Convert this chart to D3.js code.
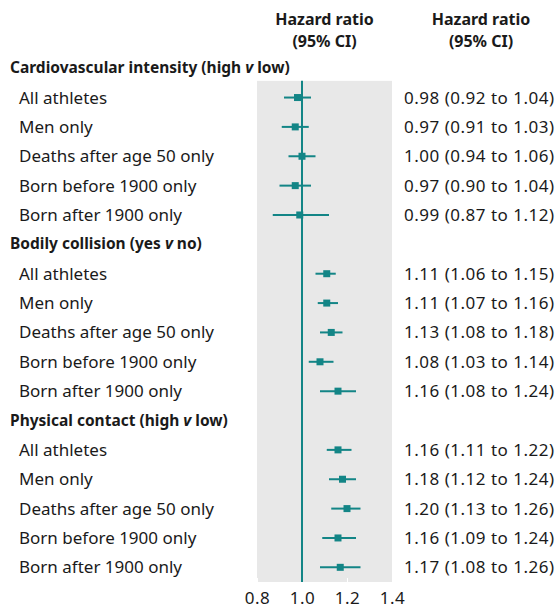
<!DOCTYPE html>
<html>
<head>
<meta charset="utf-8">
<script src="https://cdn.jsdelivr.net/npm/d3@7"></script>
<style>
  body { margin: 0; background: #fff; }
  svg { font-family: "Noto Sans", sans-serif; }
  .label { font-size: 17px; fill: #1a1a1a; }
  .value { font-size: 17px; fill: #1a1a1a; letter-spacing: 0.5px; }
  .head { font-size: 15.5px; font-weight: bold; fill: #1a1a1a; }
  .colhead { font-size: 16px; font-weight: bold; fill: #1a1a1a; }
</style>
</head>
<body>
<svg width="559" height="610"></svg>
<script>
// Groups and subgroup labels
const groups = ["Cardiovascular intensity (high ", "Bodily collision (yes ", "Physical contact (high "];
const groupTails = [" low)", " no)", " low)"];
const subgroups = ["All athletes", "Men only", "Deaths after age 50 only", "Born before 1900 only", "Born after 1900 only"];

// Hazard ratios with 95% CI, one array per group
const hr = [
  [0.98, 0.97, 1.00, 0.97, 0.99],
  [1.11, 1.11, 1.13, 1.08, 1.16],
  [1.16, 1.18, 1.20, 1.16, 1.17]
];
const lower = [
  [0.92, 0.91, 0.94, 0.90, 0.87],
  [1.06, 1.07, 1.08, 1.03, 1.08],
  [1.11, 1.12, 1.13, 1.09, 1.08]
];
const upper = [
  [1.04, 1.03, 1.06, 1.04, 1.12],
  [1.15, 1.16, 1.18, 1.14, 1.24],
  [1.22, 1.24, 1.26, 1.24, 1.26]
];
const xTicks = [0.8, 1.0, 1.2, 1.4];

const teal = "#138586";
const svg = d3.select("svg");

// flatten rows: group header rows then subgroup rows
const rows = [];
groups.forEach((g, gi) => {
  rows.push({ type: "group", gi });
  subgroups.forEach((s, si) => rows.push({ type: "row", gi, si }));
});

const y = d3.scaleBand()
  .domain(d3.range(rows.length))
  .range([53.5, 582])
  .paddingInner(0);

const x = d3.scaleLinear().domain([0.8, 1.4]).range([257, 392]);

const plotTop = y(1) - 2;
const plotBottom = 582;

// grey panel
svg.append("rect")
  .attr("x", x(0.8))
  .attr("y", plotTop)
  .attr("width", x(1.4) - x(0.8))
  .attr("height", plotBottom - plotTop)
  .attr("fill", "#e8e8e8");

// axis (labels only)
const axis = svg.append("g")
  .attr("transform", `translate(0, ${plotBottom})`)
  .call(d3.axisBottom(x).tickValues(xTicks).tickFormat(d3.format(".1f")).tickSize(4).tickPadding(6));
axis.select(".domain").remove();
axis.selectAll(".tick line").attr("stroke", "#fff").attr("transform", "translate(0,-4)");
axis.selectAll(".tick text")
  .attr("font-family", "Noto Sans, sans-serif")
  .attr("font-size", 17)
  .attr("letter-spacing", "0.5px")
  .attr("fill", "#1a1a1a");

// reference line at 1
svg.append("line")
  .attr("x1", x(1)).attr("x2", x(1))
  .attr("y1", plotTop).attr("y2", plotBottom)
  .attr("stroke", teal).attr("stroke-width", 2);

// column headers
[[x(1.1), "Hazard ratio", 25], [x(1.1), "(95% CI)", 47], [481, "Hazard ratio", 25], [481, "(95% CI)", 47]]
  .forEach(([cx, t, cy]) => {
    svg.append("text").attr("class", "colhead")
      .attr("x", cx).attr("y", cy)
      .attr("text-anchor", "middle").text(t);
  });

const mid = i => y(i) + y.bandwidth() / 2;

rows.forEach((r, i) => {
  if (r.type === "group") {
    const t = svg.append("text").attr("class", "head")
      .attr("x", 10).attr("y", mid(i) + 5);
    t.append("tspan").text(groups[r.gi]);
    t.append("tspan").attr("font-style", "italic").text("v");
    t.append("tspan").text(groupTails[r.gi]);
    return;
  }
  const est = hr[r.gi][r.si], lo = lower[r.gi][r.si], hi = upper[r.gi][r.si];
  svg.append("text").attr("class", "label")
    .attr("x", 19).attr("y", mid(i) + 6)
    .text(subgroups[r.si]);
  svg.append("line")
    .attr("x1", x(lo)).attr("x2", x(hi))
    .attr("y1", mid(i)).attr("y2", mid(i))
    .attr("stroke", teal).attr("stroke-width", 2);
  svg.append("rect")
    .attr("x", x(est) - 3.5).attr("y", mid(i) - 3.5)
    .attr("width", 7).attr("height", 7)
    .attr("fill", teal);
  svg.append("text").attr("class", "value")
    .attr("x", 404).attr("y", mid(i) + 6)
    .text(`${est.toFixed(2)} (${lo.toFixed(2)} to ${hi.toFixed(2)})`);
});
</script>
</body>
</html>
